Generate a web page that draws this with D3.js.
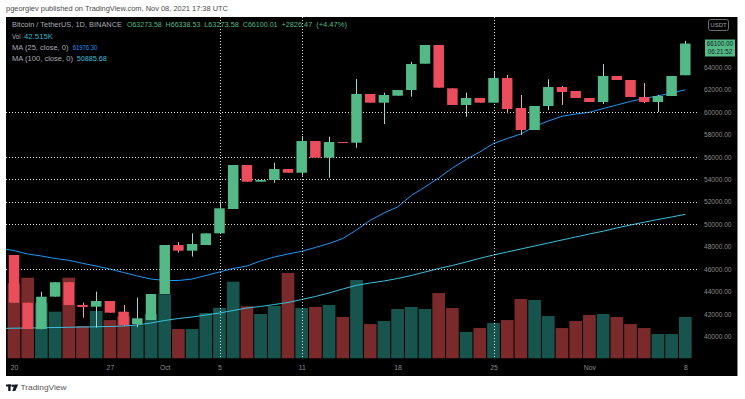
<!DOCTYPE html>
<html>
<head>
<meta charset="utf-8">
<script src="https://cdn.jsdelivr.net/npm/d3@7"></script>
<style>
  body { margin: 0; background: #fff; }
  svg { display: block; font-family: "Liberation Sans", Arial, sans-serif; }
</style>
</head>
<body>
<svg width="745" height="399"></svg>
<script>
// daily candles, BTC/USDT 1D
const dates = [
  "2021-09-20","2021-09-21","2021-09-22","2021-09-23","2021-09-24","2021-09-25","2021-09-26","2021-09-27","2021-09-28","2021-09-29",
  "2021-09-30","2021-10-01","2021-10-02","2021-10-03","2021-10-04","2021-10-05","2021-10-06","2021-10-07","2021-10-08","2021-10-09",
  "2021-10-10","2021-10-11","2021-10-12","2021-10-13","2021-10-14","2021-10-15","2021-10-16","2021-10-17","2021-10-18","2021-10-19",
  "2021-10-20","2021-10-21","2021-10-22","2021-10-23","2021-10-24","2021-10-25","2021-10-26","2021-10-27","2021-10-28","2021-10-29",
  "2021-10-30","2021-10-31","2021-11-01","2021-11-02","2021-11-03","2021-11-04","2021-11-05","2021-11-06","2021-11-07","2021-11-08"
]
const opens = [47260, 43010, 40670, 43550, 44835, 42810, 42655, 43160, 42210, 41085,
  41470, 43785, 48150, 47645, 48150, 49190, 51360, 55280, 53790, 53940,
  54920, 54590, 57415, 55930, 57325, 57265, 61605, 60830, 61450, 61960,
  64300, 65970, 62110, 60625, 61245, 60830, 63030, 60355, 58395, 60535,
  62225, 61870, 61245, 60890, 63205, 62850, 61335, 60890, 61425, 63273.58]
const highs = [47260, 43010, 43990, 44835, 44835, 43010, 44000, 43160, 42810, 43470,
  43785, 48150, 48420, 49190, 49190, 52010, 55280, 55280, 53940, 55480,
  54920, 57860, 57415, 57800, 57325, 62940, 61605, 61720, 61960, 64480,
  65970, 65970, 62110, 61720, 61245, 63650, 63295, 61515, 60535, 62915,
  62315, 61870, 61245, 64275, 63205, 62850, 62585, 61515, 63205, 66338.53]
const lows = [43010, 40670, 40640, 43550, 42810, 41675, 40790, 42120, 40960, 40820,
  41470, 43785, 47470, 47120, 48150, 49190, 51360, 53790, 53790, 53700,
  54590, 54325, 55930, 54145, 57240, 56820, 60830, 58930, 61450, 61365,
  64300, 62165, 60625, 59585, 60830, 60830, 59880, 57950, 58395, 60180,
  60625, 61245, 60890, 60715, 62850, 61335, 60800, 60000, 61425, 63273.58]
const closes = [43010, 40670, 43545, 44835, 42810, 42630, 43160, 42120, 41025, 41620,
  43785, 48150, 47645, 48240, 49190, 51420, 55280, 53790, 53940, 54920,
  54590, 57415, 55930, 57325, 57240, 61605, 60830, 61515, 61960, 64275,
  65970, 62165, 60625, 61245, 60830, 63030, 60265, 58395, 60535, 62225,
  61780, 61245, 60890, 63205, 62850, 61335, 60890, 61425, 63205, 66100.01]
// volume, thousands of BTC
const volumes = [77, 82.8, 57.2, 48, 82.8, 33.3, 48.7, 39.4, 43.2, 34,
  45.6, 65.8, 30.2, 30.2, 46.6, 52, 78.7, 53.5, 45.6, 53.8,
  87.6, 51.7, 52.8, 54.8, 42.5, 80.4, 35.3, 38.4, 50.7, 52.8,
  50.7, 67.1, 51.7, 27.2, 31.3, 36.4, 39.4, 61, 59.9, 43.5,
  31.2, 38.4, 44.6, 45.6, 42.5, 35.3, 31.2, 25.1, 25.1, 42.515]

// moving averages, first value is the day before the first candle
const maStart = "2021-09-19"
const ma25 = [47840, 47660, 47350, 47170, 46950, 46790, 46520, 46280, 46010, 45700, 45390,
  45120, 44990, 44990, 45120, 45430, 45750, 46060, 46280, 46730, 47080,
  47350, 47590, 47930, 48290, 48730, 49490, 50350, 51000, 51540, 52560,
  53320, 54120, 55010, 55770, 56440, 57190, 57640, 58040, 58710, 59200,
  59620, 59820, 59970, 60310, 60620, 60940, 61200, 61430, 61690, 61976.30]
const ma100 = [40720, 40740, 40757, 40775, 40802, 40820, 40846, 40864, 40891, 40935, 41024,
  41203, 41425, 41603, 41737, 41915, 42094, 42316, 42539, 42672, 42851,
  43029, 43296, 43563, 43875, 44232, 44561, 44766, 44944, 45167, 45434,
  45746, 46058, 46325, 46637, 46966, 47261, 47528, 47795, 48062, 48330,
  48597, 48864, 49131, 49381, 49666, 49933, 50183, 50423, 50646, 50885.68]

const priceTicks = [64000, 62000, 60000, 58000, 56000, 54000, 52000, 50000, 48000, 46000, 44000, 42000, 40000]
const timeTicks = ["2021-09-20","2021-09-27","2021-10-01","2021-10-05","2021-10-11","2021-10-18","2021-10-25","2021-11-01","2021-11-08"]
const timeLabels = ["20", "27", "Oct", "5", "11", "18", "25", "Nov", "8"]
const hLines = [60000, 56000, 54000, 52000, 50000, 46000]
const vLines = ["2021-10-05", "2021-10-11", "2021-10-25"]
const ohlcTokens = ["O63273.58", "H66338.53", "L63273.58", "C66100.01", "+2826.47", "(+4.47%)"]

const svg = d3.select("svg")
const parse = d3.timeParse("%Y-%m-%d")

const upColor = "#53b987"
const downColor = "#eb4d5c"
const upWick = "#9fd6cf"
const downWick = "#f3a1aa"
const volUp = "#17544e"
const volDown = "#7a2a2b"
const textGrey = "#a9adb6"
const axisGrey = "#8b8b8b"

const panel = {left: 6, top: 17, right: 737, bottom: 376}
const volBase = 358.5

const xScale = d3.scaleTime()
  .domain([parse(dates[0]), parse(dates[dates.length - 1])])
  .range([14, 685.3])
const yScale = d3.scaleLinear()
  .domain([40000, 60000])
  .range([336.5, 112])
const vScale = d3.scaleLinear()
  .domain([0, 100])
  .range([volBase, volBase - 97.6])

const bars = dates.map((d, i) => ({
  date: parse(d), open: opens[i], high: highs[i], low: lows[i], close: closes[i], vol: volumes[i]
}))
const maDates = [maStart].concat(dates).map(parse)

// header above the panel
svg.append("text")
  .attr("x", 6).attr("y", 9)
  .attr("dominant-baseline", "middle")
  .attr("font-size", 7.5).attr("fill", "#4a4a4a")
  .attr("textLength", 222).attr("lengthAdjust", "spacingAndGlyphs")
  .text("pgeorgiev published on TradingView.com, Nov 08, 2021 17:38 UTC")

// black panel
svg.append("rect")
  .attr("x", panel.left).attr("y", panel.top)
  .attr("width", panel.right - panel.left).attr("height", panel.bottom - panel.top)
  .attr("fill", "#000")
svg.append("line")
  .attr("x1", panel.right + 0.5).attr("x2", panel.right + 0.5)
  .attr("y1", panel.top).attr("y2", panel.bottom)
  .attr("stroke", "#8a8a8a")

svg.append("clipPath").attr("id", "clip")
  .append("rect")
  .attr("x", panel.left).attr("y", panel.top)
  .attr("width", 698 - panel.left).attr("height", volBase - panel.top)

const g = svg.append("g").attr("clip-path", "url(#clip)")

// volume
g.selectAll(".vol").data(bars)
  .enter().append("rect")
  .attr("class", "vol")
  .attr("x", d => xScale(d.date) - 6.35)
  .attr("width", 12.7)
  .attr("y", d => vScale(d.vol))
  .attr("height", d => volBase - vScale(d.vol))
  .attr("fill", d => d.close >= d.open ? volUp : volDown)

// moving averages
const line = d3.line()
  .x((d, i) => xScale(maDates[i]))
  .y(d => yScale(d))

g.append("path").datum(ma100)
  .attr("d", line)
  .attr("fill", "none").attr("stroke", "#3cc0dc").attr("stroke-width", 1)
g.append("path").datum(ma25)
  .attr("d", line)
  .attr("fill", "none").attr("stroke", "#2196f3").attr("stroke-width", 1)

// dotted drawings
g.selectAll(".hline").data(hLines)
  .enter().append("line")
  .attr("x1", panel.left).attr("x2", 698)
  .attr("y1", d => Math.round(yScale(d)) + 0.5)
  .attr("y2", d => Math.round(yScale(d)) + 0.5)
  .attr("stroke", "#dcdcdc").attr("stroke-dasharray", "1,2")
g.selectAll(".vline").data(vLines)
  .enter().append("line")
  .attr("x1", d => Math.round(xScale(parse(d))) + 0.5)
  .attr("x2", d => Math.round(xScale(parse(d))) + 0.5)
  .attr("y1", panel.top).attr("y2", volBase)
  .attr("stroke", "#dcdcdc").attr("stroke-dasharray", "1,2")

// candles
const candle = g.selectAll(".candle").data(bars)
  .enter().append("g")
  .attr("class", "candle")

candle.append("line")
  .attr("x1", d => Math.round(xScale(d.date)) + 0.5)
  .attr("x2", d => Math.round(xScale(d.date)) + 0.5)
  .attr("y1", d => yScale(d.high))
  .attr("y2", d => yScale(d.low))
  .attr("stroke", d => d.close >= d.open ? upWick : downWick)

candle.append("rect")
  .attr("x", d => xScale(d.date) - 5.25)
  .attr("width", 10.5)
  .attr("y", d => yScale(Math.max(d.open, d.close)))
  .attr("height", d => Math.max(1, Math.abs(yScale(d.open) - yScale(d.close))))
  .attr("fill", d => d.close >= d.open ? upColor : downColor)

// price axis
const yAxis = d3.axisRight(yScale)
  .tickValues(priceTicks)
  .tickFormat(d3.format(".2f"))
  .tickSize(0)
  .tickPadding(0)
const yAxisG = svg.append("g")
  .attr("transform", "translate(704, 0)")
  .call(yAxis)
yAxisG.select(".domain").remove()
yAxisG.selectAll("text")
  .attr("font-size", 6.6).attr("fill", axisGrey)
  .attr("font-family", "Liberation Sans, Arial, sans-serif")

// time axis
const xAxis = d3.axisBottom(xScale)
  .tickValues(timeTicks.map(parse))
  .tickFormat((d, i) => timeLabels[i])
  .tickSize(0)
  .tickPadding(0)
const xAxisG = svg.append("g")
  .attr("transform", "translate(0, 365)")
  .call(xAxis)
xAxisG.select(".domain").remove()
xAxisG.selectAll("text")
  .attr("font-size", 6.8).attr("fill", axisGrey)
  .attr("font-family", "Liberation Sans, Arial, sans-serif")

// last price label
svg.append("rect")
  .attr("x", 705).attr("y", 39.5).attr("width", 30).attr("height", 17)
  .attr("fill", upColor)
svg.append("text")
  .attr("x", 720).attr("y", 44.5)
  .attr("text-anchor", "middle").attr("dominant-baseline", "middle")
  .attr("font-size", 6.3).attr("fill", "#10261c")
  .text("66100.00")
svg.append("text")
  .attr("x", 720).attr("y", 52)
  .attr("text-anchor", "middle").attr("dominant-baseline", "middle")
  .attr("font-size", 6.3).attr("fill", "#10261c")
  .text("06:21:52")

// currency badge
svg.append("rect")
  .attr("x", 708.5).attr("y", 19.5).attr("width", 20).attr("height", 11).attr("rx", 2)
  .attr("fill", "none").attr("stroke", "#6f6f6f")
svg.append("text")
  .attr("x", 718.5).attr("y", 25.3)
  .attr("text-anchor", "middle").attr("dominant-baseline", "middle")
  .attr("font-size", 6).attr("fill", "#a0a0a0")
  .text("USDT")

// legend
const legend = svg.append("g").attr("font-size", 8).attr("dominant-baseline", "middle")

legend.append("text")
  .attr("x", 12).attr("y", 25)
  .attr("fill", textGrey)
  .attr("textLength", 110).attr("lengthAdjust", "spacingAndGlyphs")
  .text("Bitcoin / TetherUS, 1D, BINANCE")

// OHLC tokens laid out left to right, 3.86px per character
let tx = 127
ohlcTokens.forEach(t => {
  const w = t.length * 3.86
  legend.append("text")
    .attr("x", tx).attr("y", 25)
    .attr("fill", upColor)
    .attr("textLength", w).attr("lengthAdjust", "spacingAndGlyphs")
    .text(t)
  tx += w + 3.86
})

const legendRows = [
  {label: "Vol", value: "42.515K", y: 36.5, lw: 8.5, vx: 24, vw: 29, color: "#38b2c8"},
  {label: "MA (25, close, 0)", value: "61976.30", y: 48, lw: 56.5, vx: 72.7, vw: 24.6, color: "#2196f3"},
  {label: "MA (100, close, 0)", value: "50885.68", y: 59, lw: 61, vx: 76.7, vw: 30, color: "#3cc0dc"}
]
legendRows.forEach(r => {
  legend.append("text")
    .attr("x", 12).attr("y", r.y)
    .attr("fill", textGrey)
    .attr("textLength", r.lw).attr("lengthAdjust", "spacingAndGlyphs")
    .text(r.label)
  legend.append("text")
    .attr("x", r.vx).attr("y", r.y)
    .attr("fill", r.color)
    .attr("textLength", r.vw).attr("lengthAdjust", "spacingAndGlyphs")
    .text(r.value)
})

// footer logo
const logo = svg.append("g").attr("fill", "#131722")
logo.append("rect").attr("x", 6).attr("y", 384.5).attr("width", 5.5).attr("height", 2)
logo.append("rect").attr("x", 8.2).attr("y", 384.5).attr("width", 2.4).attr("height", 6.5)
logo.append("circle").attr("cx", 13).attr("cy", 385.8).attr("r", 1.2)
logo.append("path").attr("d", "M14.5,384.5 L18.2,384.5 L15.2,391 L12.4,391 Z")
svg.append("text")
  .attr("x", 20.5).attr("y", 388)
  .attr("dominant-baseline", "middle")
  .attr("font-size", 7.5).attr("fill", "#555")
  .attr("textLength", 46).attr("lengthAdjust", "spacingAndGlyphs")
  .text("TradingView")
</script>
</body>
</html>
